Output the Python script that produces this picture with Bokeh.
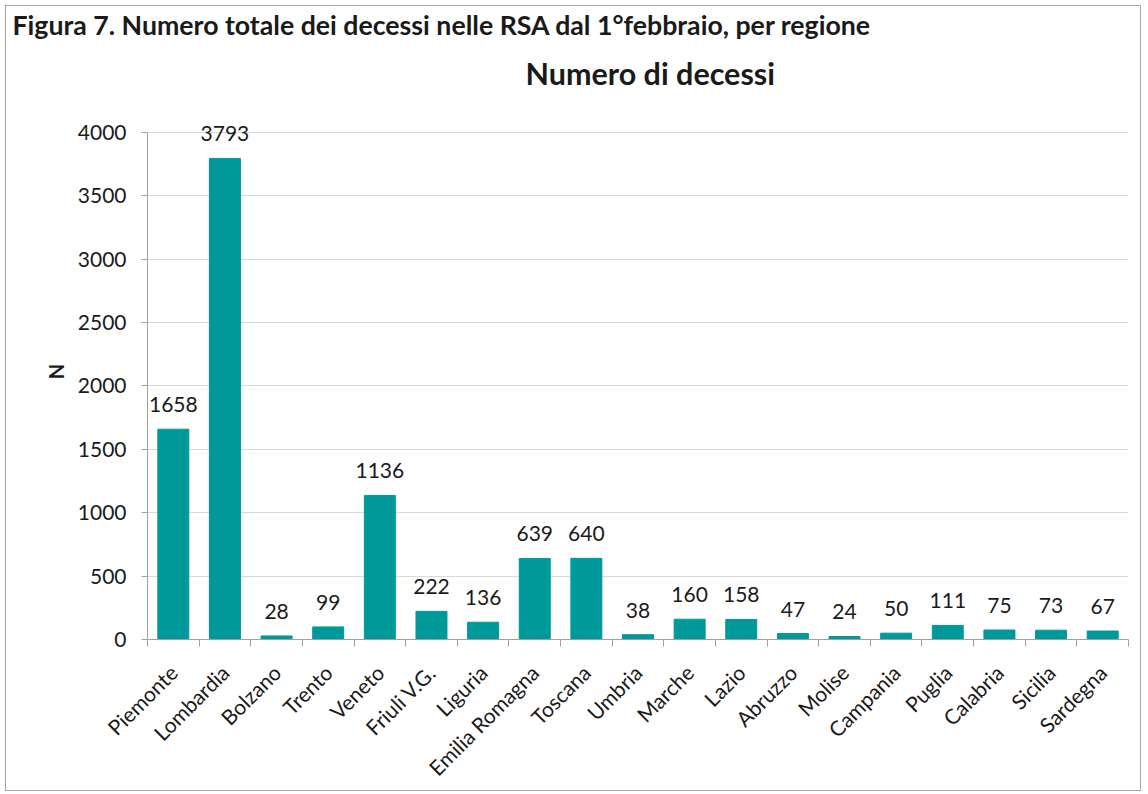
from bokeh.plotting import figure
from bokeh.models import ColumnDataSource, FixedTicker, LabelSet, Title
from bokeh.core.properties import value
from bokeh.embed import file_html
from bokeh.resources import INLINE
import math

categories = ["Piemonte", "Lombardia", "Bolzano", "Trento", "Veneto", "Friuli V.G.",
              "Liguria", "Emilia Romagna", "Toscana", "Umbria", "Marche", "Lazio",
              "Abruzzo", "Molise", "Campania", "Puglia", "Calabria", "Sicilia", "Sardegna"]
decessi = [1658, 3793, 28, 99, 1136, 222, 136, 639, 640, 38, 160, 158, 47, 24, 50, 111, 75, 73, 67]
y_ticks = [0, 500, 1000, 1500, 2000, 2500, 3000, 3500, 4000]

fig_title = "Figura 7. Numero totale dei decessi nelle RSA dal 1°febbraio, per regione"
chart_title = "Numero di decessi"
y_label = "N"

FONT = "Lato"
BAR = "#009999"
TXT = "#1a1a1a"
AX = "#a0a0a0"

OFF = 6                                  # canvas origin inside the page (after border)
W, H = 1136, 786
FL, FR, FT, FB = 147 - OFF, 1128 - OFF, 97, 639 - OFF   # frame edges
Y4000 = 131.7 - OFF                      # pixel row of the 4000 gridline
y_end = 4000 * (FB - FT) / (FB - Y4000)

n = len(categories)
xs = [i + 0.5 for i in range(n)]
src = ColumnDataSource(dict(x=xs, top=decessi, lab=[str(v) for v in decessi]))

p = figure(width=W, height=H, output_backend="svg", toolbar_location=None,
           title=None, x_range=(0, n), y_range=(0, y_end),
           min_border_left=FL, min_border_right=W - FR,
           min_border_top=FT, min_border_bottom=H - FB)
p.styles = {"border": "1px solid #a6a6a6", "margin": "5px 0 0 5px"}
p.outline_line_color = None
p.background_fill_color = "white"
p.border_fill_color = "white"

p.vbar(x="x", top="top", width=0.6, bottom=0, source=src,
       fill_color=BAR, line_color=BAR)

p.add_layout(LabelSet(x="x", y="top", text="lab", source=src,
                      text_align="center", text_baseline="alphabetic", y_offset=17,
                      text_font=value(FONT), text_font_size="21px", text_color=TXT))

# axes
p.xgrid.visible = False
p.ygrid.grid_line_color = "#d9d9d9"
p.ygrid.grid_line_width = 1

yax = p.yaxis[0]
yax.ticker = FixedTicker(ticks=y_ticks)
yax.bounds = (0, 4000)
yax.axis_line_color = AX
yax.major_tick_line_color = AX
yax.major_tick_out = 6
yax.major_tick_in = 0
yax.minor_tick_line_color = None
yax.major_label_text_font = FONT
yax.major_label_text_font_size = "21px"
yax.major_label_text_color = TXT
yax.major_label_standoff = 15
yax.axis_label = y_label
yax.axis_label_text_font = FONT
yax.axis_label_text_font_style = "bold"
yax.axis_label_text_font_size = "20px"
yax.axis_label_text_color = TXT
yax.axis_label_standoff = 7

xax = p.xaxis[0]
xax.ticker = FixedTicker(ticks=xs, minor_ticks=list(range(n + 1)))
xax.major_label_overrides = {x: c for x, c in zip(xs, categories)}
xax.major_label_orientation = math.pi / 4
xax.major_tick_line_color = None
xax.minor_tick_line_color = AX
xax.minor_tick_out = 7
xax.minor_tick_in = 0
xax.axis_line_color = AX
xax.major_label_text_font = FONT
xax.major_label_text_font_size = "21px"
xax.major_label_text_color = TXT
xax.major_label_standoff = 22

# titles: first added sits nearest the plot frame
p.add_layout(Title(text=chart_title, align="left", offset=525 - OFF - FL,
                   text_font=FONT, text_font_style="bold", text_font_size="30.5px",
                   text_color=TXT, standoff=25), "above")
p.add_layout(Title(text=fig_title, align="left", offset=12 - OFF - FL,
                   text_font=FONT, text_font_style="bold", text_font_size="26.7px",
                   text_color=TXT, standoff=0), "above")

open("out.html", "w").write(file_html(p, INLINE))
